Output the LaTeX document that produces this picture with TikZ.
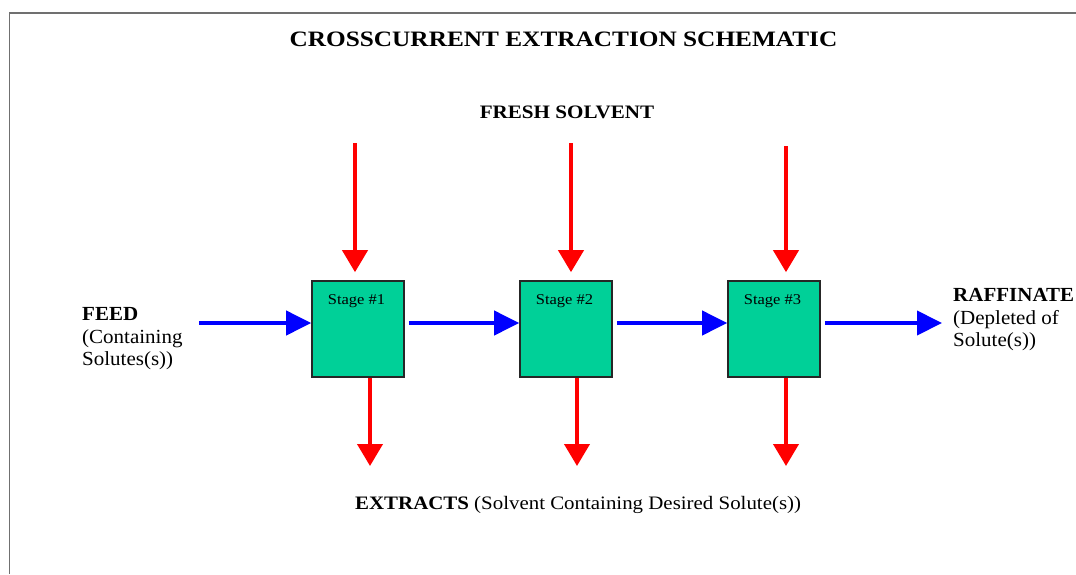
\documentclass[tikz,border=0pt]{standalone}
\usepackage{fontspec}
\usepackage{graphicx}
\setmainfont{Liberation Serif}
\usetikzlibrary{arrows.meta}
\definecolor{stagefill}{RGB}{0,208,152}
\definecolor{flowblue}{RGB}{0,0,255}
\definecolor{flowred}{RGB}{255,0,0}
\definecolor{framegray}{RGB}{112,112,112}
\newcommand\widentext[2]{\scalebox{#1}[1]{#2}}
\tikzset{
  stagebox/.style={draw=black!85, line width=1.6pt, fill=stagefill, minimum width=92pt, minimum height=96pt, inner sep=0pt},
  stagelabel/.style={font=\fontsize{15}{18}\selectfont},
  blueflow/.style={draw=flowblue, line width=4pt, -{Triangle[length=25pt,width=24pt]}},
  redflow/.style={draw=flowred, line width=4pt, -{Triangle[length=22pt,width=25pt]}},
  heading/.style={font=\bfseries\fontsize{22}{26}\selectfont, inner sep=0pt, anchor=base},
  sublabel/.style={font=\fontsize{20}{22.7}\selectfont, inner sep=0pt, align=left, anchor=north west},
  frameline/.style={draw=framegray, line width=1.6pt}
}
\begin{document}
\begin{tikzpicture}[x=1pt,y=-1pt]
\useasboundingbox (0,0) rectangle (1076,574);
% frame
\coordinate (fa) at (9.5,13);
\coordinate (fb) at (1076,13);
\coordinate (fc) at (9.5,574);
\draw[frameline] (fb) -- (fa) -- (fc);
% title
\node[heading] (title) at (563.5,46) {\widentext{1.15}{CROSSCURRENT EXTRACTION SCHEMATIC}};
\node[heading, font=\bfseries\fontsize{19}{22}\selectfont] (fresh) at (567,118) {\widentext{1.11}{FRESH SOLVENT}};
% stages
\node[stagebox, label={[stagelabel, anchor=north, yshift=-11pt, xshift=-1.5pt]north:\widentext{1.1}{Stage \#1}}] (s1) at (358,329) {};
\node[stagebox, label={[stagelabel, anchor=north, yshift=-11pt, xshift=-1.5pt]north:\widentext{1.1}{Stage \#2}}] (s2) at (566,329) {};
\node[stagebox, label={[stagelabel, anchor=north, yshift=-11pt, xshift=-1.5pt]north:\widentext{1.1}{Stage \#3}}] (s3) at (774,329) {};
% side labels
\node[sublabel] (feed) at (82,307) {\widentext{1.05}{\textbf{FEED}}\\\widentext{1.05}{(Containing}\\\widentext{1.05}{Solutes(s))}};
\node[sublabel] (raff) at (953,288) {\widentext{1.05}{\textbf{RAFFINATE}}\\\widentext{1.05}{(Depleted of}\\\widentext{1.05}{Solute(s))}};
\node[font=\fontsize{19}{22}\selectfont, inner sep=0pt, anchor=base west] (extr) at (355,509) {\widentext{1.1}{\textbf{EXTRACTS} (Solvent Containing Desired Solute(s))}};
% solvent inlets
\coordinate (t1) at (355,143);
\coordinate (t2) at (571,143);
\coordinate (t3) at (786,146);
\draw[redflow, shorten >=8pt] (t1) -- (t1 |- s1.north);
\draw[redflow, shorten >=8pt] (t2) -- (t2 |- s2.north);
\draw[redflow, shorten >=8pt] (t3) -- (t3 |- s3.north);
% extract outlets
\coordinate (b1) at (370,466);
\coordinate (b2) at (577,466);
\coordinate (b3) at (786,466);
\draw[redflow] (b1 |- s1.south) -- (b1);
\draw[redflow] (b2 |- s2.south) -- (b2);
\draw[redflow] (b3 |- s3.south) -- (b3);
% main flow
\coordinate (fin) at (199,323);
\coordinate (fout) at (942,323);
\draw[blueflow] (fin) -- (fin -| s1.west);
\draw[blueflow, shorten <=4pt] (s1.east |- fin) -- (fin -| s2.west);
\draw[blueflow, shorten <=4pt] (s2.east |- fin) -- (fin -| s3.west);
\draw[blueflow, shorten <=4pt] (s3.east |- fin) -- (fout);
\end{tikzpicture}
\end{document}
